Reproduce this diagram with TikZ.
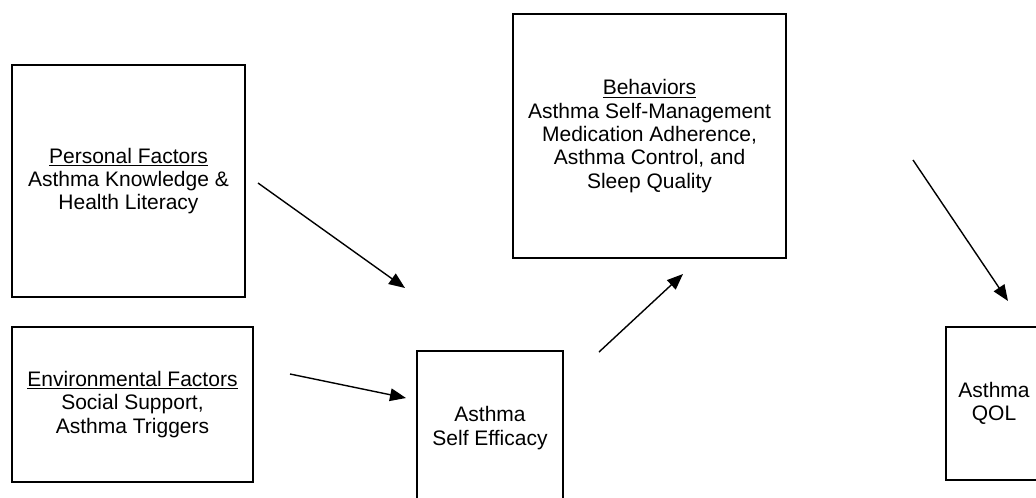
\documentclass[tikz,border=0pt]{standalone}
\usepackage{fontspec}
\setmainfont{Liberation Sans}
\usetikzlibrary{arrows.meta}

\begin{document}
\begin{tikzpicture}[
    x=0.75pt,y=-0.75pt,
    factor/.style={draw,line width=1.2pt,align=center,inner sep=0pt,
        font={\fontsize{15.75pt}{17.5pt}\selectfont}},
    link/.style={-{Triangle[length=12pt,width=9.5pt]},line width=1.05pt},
    ]
    \useasboundingbox (0,0) rectangle (1036,497);
    \clip (0,0) rectangle (1036,497);

    % personal and environmental factors
    \node[factor,minimum width=233*0.75pt,minimum height=232*0.75pt] (personal)
        at (128.5,181) {\underline{Personal Factors}\\Asthma Knowledge \&\\Health Literacy};
    \node[factor,minimum width=241*0.75pt,minimum height=155*0.75pt] (environ)
        at (132.5,404.5) {\underline{Environmental Factors}\\Social Support,\\Asthma Triggers};

    % self efficacy (runs off the bottom)
    \node[factor,minimum width=146*0.75pt,minimum height=154*0.75pt] (efficacy)
        at (490,428) {Asthma\\Self Efficacy};

    % behaviors
    \node[factor,minimum width=273*0.75pt,minimum height=244*0.75pt] (behave)
        at (649.5,136) {\underline{Behaviors}\\Asthma Self-Management\\Medication Adherence,\\Asthma Control, and\\Sleep Quality};

    % quality of life (runs off the right)
    \node[factor,minimum width=96*0.75pt,minimum height=153*0.75pt] (qol)
        at (994,403.5) {Asthma\\QOL};

    % arrow ends
    \coordinate (p1) at (258,183);
    \coordinate (p2) at (405,288);
    \coordinate (e1) at (290,374);
    \coordinate (e2) at (406,398);
    \coordinate (s1) at (599,352);
    \coordinate (s2) at (683,274);
    \coordinate (b1) at (913,160);
    \coordinate (b2) at (1008,301);

    \draw[link] (p1) -- (p2);
    \draw[link] (e1) -- (e2);
    \draw[link] (s1) -- (s2);
    \draw[link] (b1) -- (b2);
\end{tikzpicture}
\end{document}
